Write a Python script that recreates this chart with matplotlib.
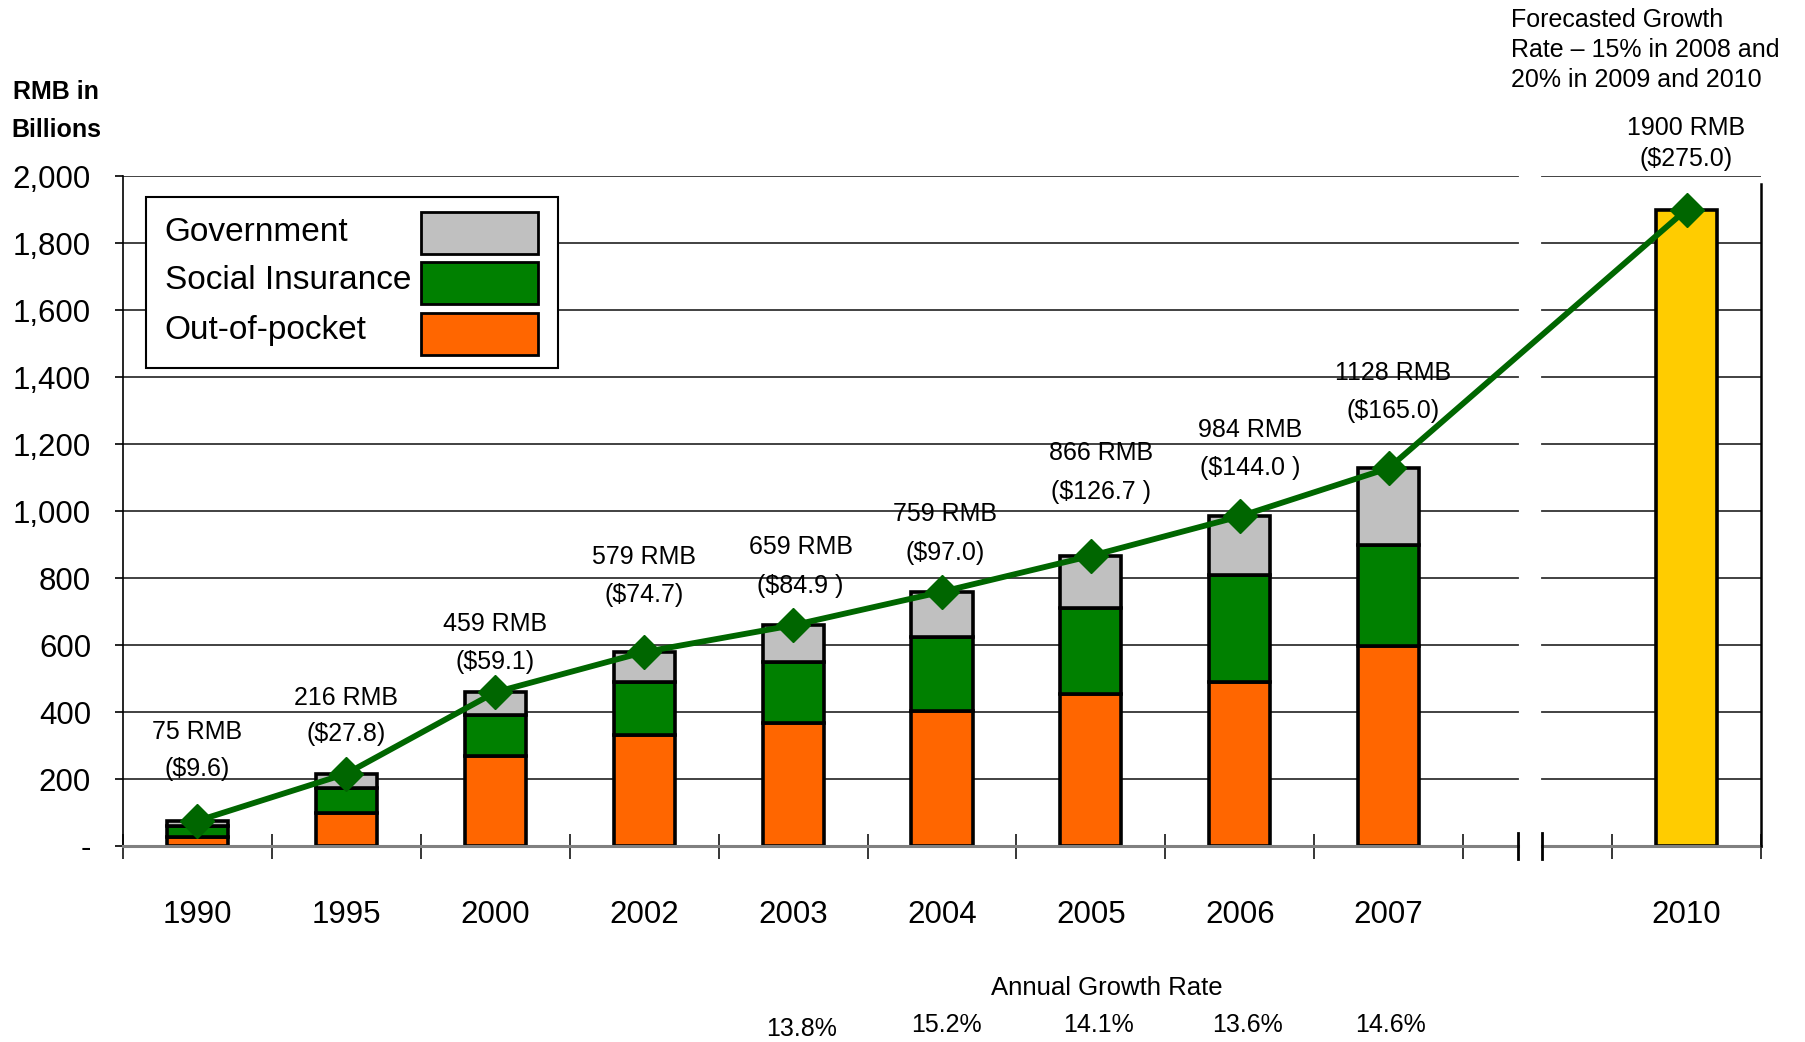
import numpy as np
import matplotlib
matplotlib.use('Agg')
from matplotlib import pyplot as plt
from matplotlib import transforms
from matplotlib.patches import Rectangle

years = ['1990', '1995', '2000', '2002', '2003', '2004', '2005', '2006', '2007']
out_of_pocket = [26, 98, 270, 331, 368, 404, 454, 490, 597]
social_insurance = [33, 74, 121, 159, 182, 220, 255, 319, 301]
government = [16, 44, 68, 89, 109, 135, 157, 175, 230]
totals_rmb = [75, 216, 459, 579, 659, 759, 866, 984, 1128]
totals_usd = ['($9.6)', '($27.8)', '($59.1)', '($74.7)', '($84.9 )', '($97.0)',
              '($126.7 )', '($144.0 )', '($165.0)']
forecast_year = '2010'
forecast_rmb = 1900
forecast_usd = '($275.0)'
growth_years = ['2003', '2004', '2005', '2006', '2007']
growth_rates = [13.8, 15.2, 14.1, 13.6, 14.6]
series_names = ['Government', 'Social Insurance', 'Out-of-pocket']
y_ticks = [0, 200, 400, 600, 800, 1000, 1200, 1400, 1600, 1800, 2000]
y_tick_labels = ['-', '200', '400', '600', '800', '1,000', '1,200', '1,400',
                 '1,600', '1,800', '2,000']

C_GOV = '#C0C0C0'
C_SI = '#008000'
C_OOP = '#FF6600'
C_FC = '#FFCC00'
C_LINE = '#006600'

plt.rcParams['font.family'] = ['Liberation Sans', 'DejaVu Sans']

fig = plt.figure(figsize=(18.05, 10.42), dpi=100)
ax = fig.add_axes([0.06814, 0.18810, 0.90748, 0.64299])

x = np.arange(len(years))
x_fc = len(years) + 1  # 2010 sits one empty slot past 2007
w = 0.41
edge = dict(edgecolor='black', linewidth=2.6, zorder=3)

oop = np.array(out_of_pocket)
si = np.array(social_insurance)
gov = np.array(government)
ax.bar(x, oop, w, color=C_OOP, **edge)
ax.bar(x, si, w, bottom=oop, color=C_SI, **edge)
ax.bar(x, gov, w, bottom=oop + si, color=C_GOV, **edge)
ax.bar([x_fc], [forecast_rmb], w, color=C_FC, **edge)

line_x = list(x) + [x_fc]
line_y = totals_rmb + [forecast_rmb]
ax.plot(line_x, line_y, color=C_LINE, lw=4.2, marker='D', ms=17,
        markerfacecolor=C_LINE, markeredgecolor=C_LINE, zorder=5)

# broken-axis look: gridlines and baseline in two pieces
brk_l, brk_r = 8.87, 9.03
xmin, xmax = -0.5, 10.5
for yv in y_ticks[1:]:
    for a, b in [(xmin, brk_l), (brk_r, xmax)]:
        ax.plot([a, b], [yv, yv], color='#333333', lw=1.3, zorder=1)
for a, b in [(xmin, brk_l), (brk_r, xmax)]:
    ax.plot([a, b], [0, 0], color='#808080', lw=2.2, zorder=4, clip_on=False)
for xb in [brk_l, brk_r]:
    ax.plot([xb, xb], [-40, 40], color='black', lw=2.0, zorder=4, clip_on=False)
ax.plot([xmax, xmax], [0, 1975], color='black', lw=1.8, zorder=4, clip_on=False)

ax.set_xlim(xmin, xmax)
ax.set_ylim(0, 2000)
for s in ['top', 'right', 'bottom']:
    ax.spines[s].set_visible(False)
ax.spines['left'].set_linewidth(1.2)

ax.set_yticks(y_ticks)
ax.set_yticklabels(y_tick_labels, fontsize=22.5)
ax.tick_params(axis='y', direction='out', length=6, width=1.2, pad=17)

ax.set_xticks(line_x)
ax.set_xticklabels(years + [forecast_year], fontsize=22.5)
ax.set_xticks(list(np.arange(-0.5, 9.0, 1.0)) + [9.5, 10.5], minor=True)
ax.tick_params(axis='x', which='major', length=0, pad=39)
ax.tick_params(axis='x', which='minor', direction='inout', length=18, width=1.1)

# value labels above bars: (x offset, y of RMB line, y of USD line)
label_pos = [(0, 340, 230), (0, 443, 333), (0, 663, 550), (0, 862, 749),
             (0.05, 893, 777), (0.02, 990, 876), (0.07, 1172, 1058),
             (0.07, 1241, 1127), (0.03, 1412, 1299)]
for i, (dx, y1, y2) in enumerate(label_pos):
    ax.text(x[i] + dx, y1, f'{totals_rmb[i]} RMB', ha='center', va='center',
            fontsize=18, zorder=6)
    ax.text(x[i] + dx, y2, totals_usd[i], ha='center', va='center',
            fontsize=18, zorder=6)
ax.text(x_fc, 2143, f'{forecast_rmb} RMB', ha='center', va='center',
        fontsize=18, clip_on=False)
ax.text(x_fc, 2051, forecast_usd, ha='center', va='center',
        fontsize=18, clip_on=False)

fig.text(1511 / 1805, 1 - 8 / 1042,
         'Forecasted Growth\nRate \u2013 15% in 2008 and\n20% in 2009 and 2010',
         ha='left', va='top', fontsize=18, linespacing=1.32)

fig.text(56 / 1805, 1 - 92 / 1042, 'RMB in', ha='center', va='center',
         fontsize=18, fontweight='bold')
fig.text(56 / 1805, 1 - 130 / 1042, 'Billions', ha='center', va='center',
         fontsize=18, fontweight='bold')

# annual growth rate row under the axis
tr = transforms.blended_transform_factory(ax.transData, fig.transFigure)
ax.text(6.11, 1 - 988 / 1042, 'Annual Growth Rate', transform=tr,
        ha='center', va='center', fontsize=18.5)
rate_dx = [0.06, 0.03, 0.05, 0.05, 0.01]
rate_y = [1029, 1025, 1025, 1025, 1025]
for i, r in enumerate(growth_rates):
    xi = years.index(growth_years[i])
    ax.text(xi + rate_dx[i], 1 - rate_y[i] / 1042, f'{r:.1f}%', transform=tr,
            ha='center', va='center', fontsize=18)

# legend drawn by hand: text left, swatch right
ta = ax.transAxes
ax.add_patch(Rectangle((0.01404, 0.7134), 0.2516, 0.2553, transform=ta,
                       facecolor='white', edgecolor='black', lw=1.5, zorder=7))
sw_colors = [C_GOV, C_SI, C_OOP]
sw_bottom = [0.8836, 0.8090, 0.7328]
txt_y = [0.9164, 0.8433, 0.7701]
for i, name in enumerate(series_names):
    ax.add_patch(Rectangle((0.1819, sw_bottom[i]), 0.0715, 0.0627, transform=ta,
                           facecolor=sw_colors[i], edgecolor='black', lw=2,
                           zorder=8))
    ax.text(0.0254, txt_y[i], name, transform=ta, ha='left', va='center',
            fontsize=24, zorder=8)

fig.savefig('out.png', dpi=100)
